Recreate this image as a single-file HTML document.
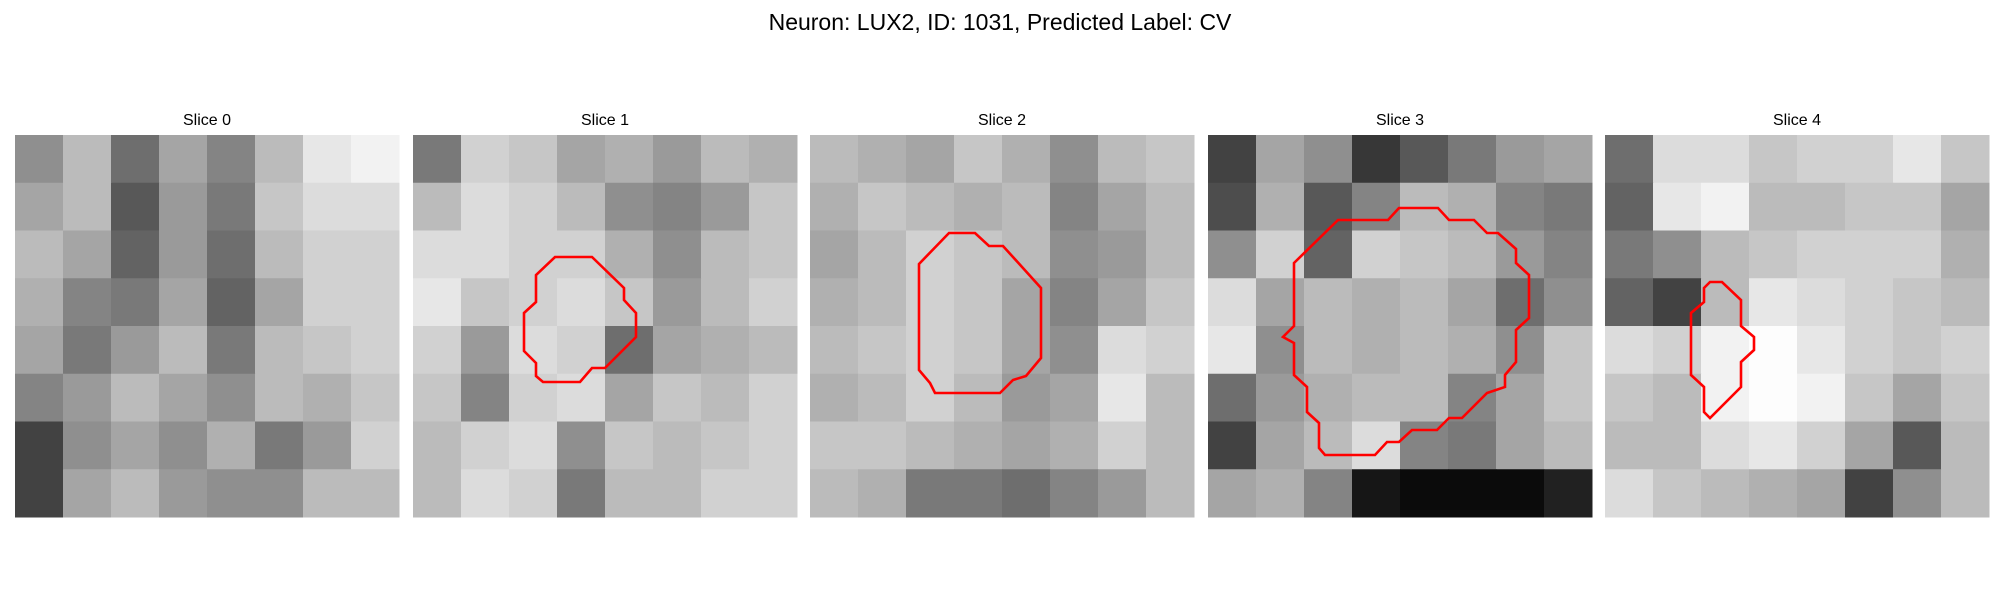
<!DOCTYPE html>
<html><head><meta charset="utf-8"><style>
html,body{margin:0;padding:0;background:#fff;}
body{width:2000px;height:600px;overflow:hidden;}
svg{display:block;font-family:"Liberation Sans","DejaVu Sans",sans-serif;}
</style></head><body>
<svg id="fig" width="2000" height="600" viewBox="0 0 2000 600">
<text x="1000" y="30" text-anchor="middle" font-size="23" fill="#000">Neuron: LUX2, ID: 1031, Predicted Label: CV</text>
</svg>
<script>
const sliceTitles=["Slice 0","Slice 1","Slice 2","Slice 3","Slice 4"];
const slice0=[[130,170,100,150,120,170,210,220],[150,170,80,140,110,180,200,200],[170,150,90,140,100,170,190,190],[160,120,110,150,90,150,190,190],[150,110,140,170,110,170,180,190],[120,140,170,150,130,170,160,180],[60,130,150,130,160,110,140,190],[60,150,170,140,130,130,170,170]];
const slice1=[[110,190,180,150,160,140,170,160],[170,200,190,170,130,120,140,180],[200,200,190,190,160,130,170,180],[210,180,190,200,180,140,170,190],[190,140,200,190,100,150,160,170],[180,120,190,200,150,180,170,190],[170,190,200,130,180,170,180,190],[170,200,190,110,170,170,190,190]];
const slice2=[[170,160,150,180,160,130,170,180],[160,180,170,160,170,120,150,170],[150,170,190,180,170,130,140,170],[160,170,190,180,150,120,150,180],[170,180,190,180,150,130,200,190],[160,170,190,170,140,150,210,170],[180,180,170,160,150,160,190,170],[170,160,110,110,100,120,140,170]];
const slice3=[[60,150,130,50,80,110,140,150],[70,160,80,120,170,160,120,110],[130,190,90,190,180,170,140,120],[200,150,170,160,170,150,100,130],[210,130,170,160,170,160,130,180],[100,140,160,170,170,120,150,180],[60,150,170,200,120,110,150,170],[150,160,120,20,10,10,10,30]];
const slice4=[[100,200,200,180,190,190,210,180],[90,210,220,170,170,180,180,150],[110,130,170,180,190,190,190,160],[90,60,170,210,200,190,180,170],[200,190,220,230,210,190,180,190],[180,170,220,230,220,180,150,180],[170,170,200,210,190,150,80,170],[200,180,170,160,150,60,130,170]];
const slices=[slice0,slice1,slice2,slice3,slice4];
const contour1=[[142,122],[179,122],[211,153],[211,165],[223,178],[223,202],[192,233],[179,233],[167,247],[130,247],[123,241],[123,228],[111,216],[111,178],[123,167],[123,140]];
const contour2=[[147,98],[165,98],[179,111],[193,111],[231,153],[231,223],[216,241],[203,245],[190,258],[125,258],[120,248],[109,235],[109,129],[139,98]];
const contour3=[[191,73],[230,73],[241,85],[266,85],[279,98],[290,98],[308,114],[308,128],[321,140],[321,183],[308,195],[308,227],[297,240],[297,252],[279,258],[254,283],[241,283],[229,295],[204,295],[191,307],[179,307],[167,320],[117,320],[111,313],[111,288],[99,277],[99,252],[86,240],[86,208],[75,202],[86,191],[86,128],[130,85],[180,85]];
const contour4=[[105,147],[117,147],[136,165],[136,191],[149,202],[149,215],[136,227],[136,252],[105,283],[99,277],[99,252],[86,240],[86,178],[99,167],[99,153]];
const contours=[null,contour1,contour2,contour3,contour4];

const NS="http://www.w3.org/2000/svg";
const svg=document.getElementById('fig');
const panelX=[15,413,810,1208,1605], panelY=135, PW=384, PH=382;
function tone(v){return Math.min(255,Math.round(v*1.1));}
slices.forEach((grid,i)=>{
  const g=document.createElementNS(NS,'g');
  
  
  g.setAttribute('transform','translate('+panelX[i]+','+panelY+')');
  const rows=grid.length, cols=grid[0].length;
  const cw=PW/cols, ch=PH/rows;
  grid.forEach((row,r)=>row.forEach((v,c)=>{
    const rc=document.createElementNS(NS,'rect');
    
    
    rc.setAttribute('x',c*cw);rc.setAttribute('y',r*ch);
    rc.setAttribute('width',cw+0.5);rc.setAttribute('height',ch+0.5);
    const t=tone(v);
    rc.setAttribute('fill','rgb('+t+','+t+','+t+')');
    g.appendChild(rc);
  }));
  const ct=contours[i];
  if(ct){
    const p=document.createElementNS(NS,'polygon');
    
    
    p.setAttribute('points',ct.map(q=>q.join(',')).join(' '));
    p.setAttribute('fill','none');p.setAttribute('stroke','#ff0000');p.setAttribute('stroke-width','2.6');
    g.appendChild(p);
  }
  svg.appendChild(g);
  const t=document.createElementNS(NS,'text');
  
  
  t.setAttribute('x',panelX[i]+PW/2);t.setAttribute('y',125);
  t.setAttribute('text-anchor','middle');t.setAttribute('font-size','16');
  t.textContent=sliceTitles[i];
  svg.appendChild(t);
});
</script>
</body></html>
